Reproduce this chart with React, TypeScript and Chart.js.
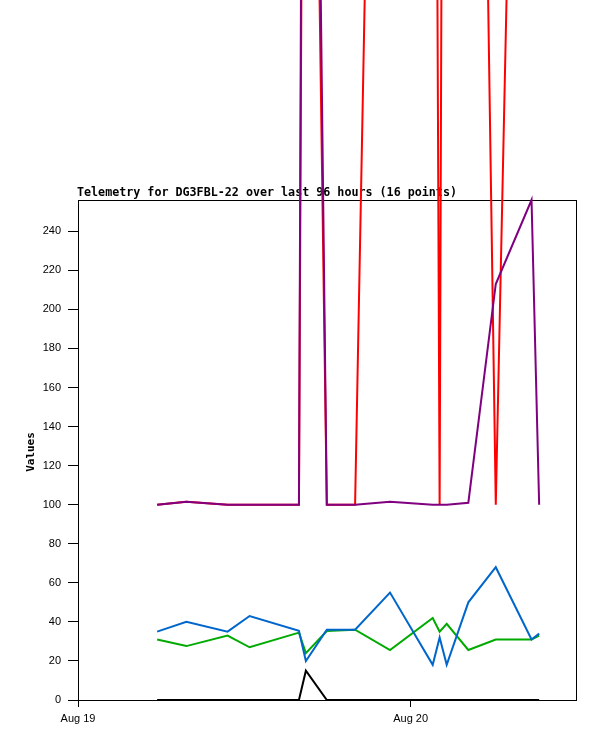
import React, { useEffect, useRef } from "react";
import { Chart, registerables } from "chart.js";

Chart.register(...registerables);

// hours since Aug 19 00:00
const hours = [5.71, 7.82, 10.79, 12.38, 15.94, 16.44, 17.95, 19.99, 22.51, 25.59, 26.09, 26.6, 28.16, 30.14, 32.72, 33.27];
const seriesPurple = [100, 101.5, 100, 100, 100, 1000, 100, 100, 101.5, 100, 100, 100, 101, 213, 256, 100];
const seriesRed = [100, 101.5, 100, 100, 100, 850, 100, 100, 1040, 920, 100, 1160, 1030, 100, 960, 960];
const seriesBlue = [35, 40, 35, 43, 35.4, 20, 36, 36, 55, 18, 32, 18, 50, 68, 31, 34];
const seriesGreen = [31, 27.6, 33, 27, 34.5, 24, 35.3, 36, 25.6, 42, 35, 39, 25.6, 31, 31, 33];
const seriesBlack = [0, 0, 0, 0, 0, 15, 0, 0, 0, 0, 0, 0, 0, 0, 0, 0];

const xTickValues = [0, 24];
const xTickLabels = ["Aug 19", "Aug 20"];
const yTickValues = [0, 20, 40, 60, 80, 100, 120, 140, 160, 180, 200, 220, 240];

const titleText = "Telemetry for DG3FBL-22 over last 96 hours (16 points)";
const yTitle = "Values";

const pts = (vals: number[]) => vals.map((v, i) => ({ x: hours[i], y: v }));

export default function App() {
  const ref = useRef<HTMLCanvasElement | null>(null);
  useEffect(() => {
    if (!ref.current) return;
    const mk = (label: string, data: number[], color: string) => ({
      label,
      data: pts(data),
      borderColor: color,
      backgroundColor: color,
      borderWidth: 2,
      pointRadius: 0,
      tension: 0,
      fill: false,
      clip: false as any,
    });
    const textPlugin = {
      id: "texts",
      beforeDatasetsDraw(chart: any) {
        const { ctx, chartArea } = chart;
        ctx.save();
        ctx.strokeStyle = "#000";
        ctx.lineWidth = 1;
        ctx.strokeRect(
          Math.round(chartArea.left) + 0.5,
          Math.round(chartArea.top) + 0.5,
          Math.round(chartArea.right - chartArea.left) - 1,
          Math.round(chartArea.bottom - chartArea.top)
        );
        ctx.fillStyle = "#000";
        ctx.font = "bold 11.7px 'DejaVu Sans Mono'";
        ctx.textAlign = "left";
        ctx.textBaseline = "alphabetic";
        ctx.fillText(titleText, 77, 196);
        ctx.translate(34, 452);
        ctx.rotate(-Math.PI / 2);
        ctx.textAlign = "center";
        ctx.font = "bold 11px 'DejaVu Sans Mono'";
        ctx.fillText(yTitle, 0, 0);
        ctx.restore();
      },
    };
    const chart = new Chart(ref.current, {
      type: "line",
      data: {
        datasets: [
          mk("Channel 5", seriesPurple, "#800080"),
          mk("Channel 4", seriesRed, "#FF0000"),
          mk("Channel 2", seriesBlue, "#0066CC"),
          mk("Channel 3", seriesGreen, "#00AA00"),
          mk("Channel 1", seriesBlack, "#000000"),
        ],
      },
      options: {
        animation: false,
        responsive: false,
        devicePixelRatio: 1,
        layout: { padding: { left: 0, right: 20, top: 200, bottom: 0 } },
        plugins: { legend: { display: false }, tooltip: { enabled: false }, title: { display: false } },
        scales: {
          x: {
            type: "linear",
            min: 0,
            max: 36,
            afterFit: (s: any) => {
              s.height = 41;
            },
            afterBuildTicks: (s: any) => {
              s.ticks = xTickValues.map((v) => ({ value: v }));
            },
            border: { display: false },
            grid: { drawOnChartArea: false, drawTicks: true, tickLength: 7, color: "#000" },
            ticks: {
              padding: 5,
              color: "#000",
              font: { family: "'Liberation Sans'", size: 11 },
              maxRotation: 0,
              callback: (v: any) => {
                const i = xTickValues.indexOf(Number(v));
                return i >= 0 ? xTickLabels[i] : "";
              },
            },
          },
          y: {
            type: "linear",
            min: 0,
            max: 256,
            afterFit: (s: any) => {
              s.width = 78;
            },
            afterBuildTicks: (s: any) => {
              s.ticks = yTickValues.map((v) => ({ value: v }));
            },
            border: { display: false },
            grid: { drawOnChartArea: false, drawTicks: true, tickLength: 10, color: "#000" },
            ticks: {
              padding: 7,
              color: "#000",
              font: { family: "'Liberation Sans'", size: 11 },
            },
          },
        },
      },
      plugins: [textPlugin],
    } as any);
    return () => chart.destroy();
  }, []);
  return (
    <div style={{ position: "absolute", left: 0, top: 0, width: 597, height: 741, background: "#fff" }}>
      <canvas ref={ref} width={597} height={741} style={{ width: 597, height: 741, display: "block" }} />
    </div>
  );
}
